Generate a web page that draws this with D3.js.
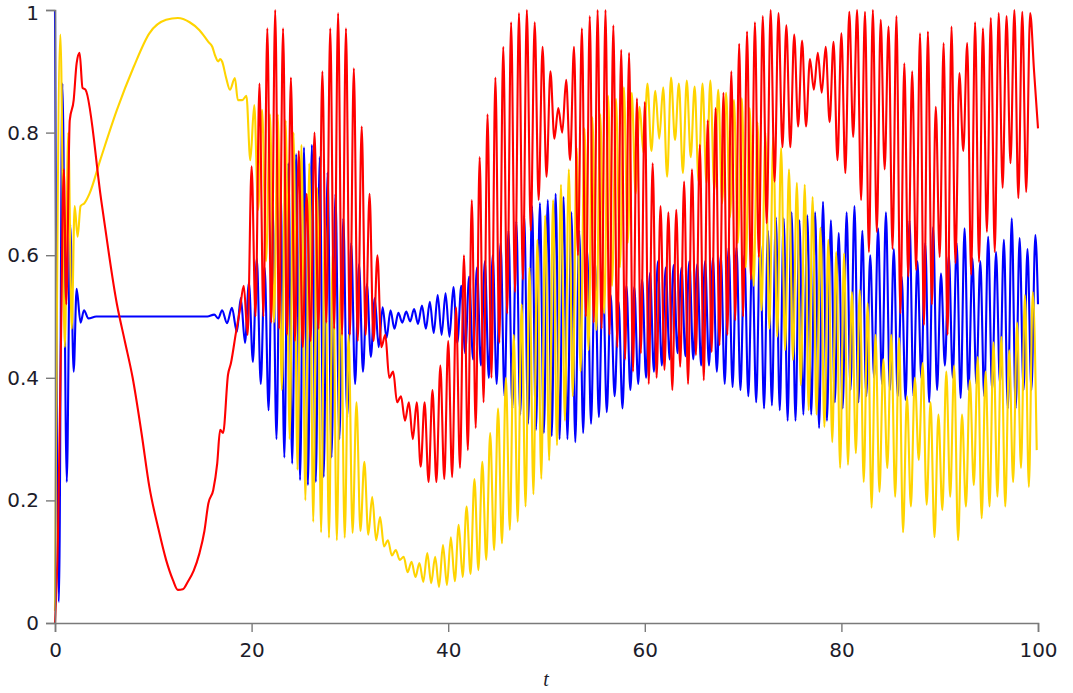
<!DOCTYPE html>
<html>
<head>
<meta charset="utf-8">
<script src="https://cdn.jsdelivr.net/npm/d3@7"></script>
<style>
  body { margin: 0; background: #fff; }
  svg { display: block; }
</style>
</head>
<body>
<svg id="chart" width="1073" height="693"></svg>
<script>
// axis ticks
const xTicks = [0, 20, 40, 60, 80, 100];
const xMinor = [10, 30, 50, 70, 90];
const yTicks = [0, 0.2, 0.4, 0.6, 0.8, 1];
const yMinor = [0.1, 0.3, 0.5, 0.7, 0.9];

const oscStep = 0.4;

// red: transient (t, value) then extremes from t = 19.2 (peak first)
const redHeadT = [0, 0.3, 0.6, 0.9, 1.15, 1.5, 1.9, 2.2, 2.5, 2.8, 3.1, 4.7, 6.3, 7.1, 7.9, 8.8, 9.6, 10.5, 11.3, 12.0, 12.5, 13.0, 13.5, 14.1, 14.7, 15.2, 15.6, 16.1, 16.5, 16.8, 17.1, 17.6, 17.9, 18.4, 18.8];
const redHeadV = [0, 0.14, 0.45, 0.74, 0.52, 0.82, 0.853, 0.913, 0.93, 0.873, 0.87, 0.69, 0.52, 0.46, 0.40, 0.31, 0.222, 0.155, 0.103, 0.07, 0.054, 0.055, 0.067, 0.085, 0.114, 0.15, 0.195, 0.217, 0.26, 0.315, 0.31, 0.405, 0.424, 0.473, 0.51];
const redOscStart = 19.2;
const redOsc = [
  0.55, 0.47, 0.745, 0.50, 0.88, 0.50, 0.97, 0.49, 1.0, 0.48,
  0.97, 0.47, 0.89, 0.46, 0.77, 0.45, 0.70, 0.46, 0.80, 0.48,
  0.90, 0.49, 0.97, 0.48, 0.995, 0.47, 0.97, 0.47, 0.905, 0.46,
  0.81, 0.47, 0.70, 0.46, 0.60, 0.45, 0.47, 0.40, 0.41, 0.36,
  0.37, 0.33, 0.36, 0.30, 0.36, 0.255, 0.36, 0.23, 0.38, 0.23,
  0.42, 0.235, 0.46, 0.238, 0.515, 0.253, 0.60, 0.282, 0.69, 0.318,
  0.76, 0.36, 0.83, 0.40, 0.89, 0.457, 0.94, 0.505, 0.98, 0.54,
  0.995, 0.56, 1.0, 0.64, 0.98, 0.69, 0.94, 0.728, 0.90, 0.79,
  0.84, 0.80, 0.886, 0.755, 0.94, 0.60, 0.97, 0.50, 0.99, 0.49,
  1.0, 0.48, 1.0, 0.47, 0.975, 0.45, 0.935, 0.43, 0.93, 0.41,
  0.856, 0.44, 0.85, 0.39, 0.75, 0.40, 0.68, 0.413, 0.67, 0.38,
  0.674, 0.418, 0.72, 0.39, 0.74, 0.437, 0.78, 0.396, 0.82, 0.442,
  0.84, 0.453, 0.865, 0.47, 0.90, 0.494, 0.945, 0.50, 0.965, 0.56,
  0.98, 0.597, 0.99, 0.652, 1.0, 0.72, 0.995, 0.776, 0.975, 0.776,
  0.96, 0.81, 0.95, 0.81, 0.92, 0.87, 0.93, 0.865, 0.94, 0.817,
  0.948, 0.755, 0.962, 0.734, 0.997, 0.793, 1.0, 0.69, 0.997, 0.605,
  1.0, 0.638, 0.984, 0.74, 0.973, 0.61, 0.99, 0.505, 0.913, 0.565,
  0.90, 0.576, 0.962, 0.486, 0.965, 0.52, 0.842, 0.597, 0.946, 0.47,
  0.973, 0.587, 0.897, 0.77, 0.946, 0.568, 0.98, 0.589, 0.97, 0.638,
  0.987, 0.605, 0.995, 0.71, 0.99, 0.75, 1.0, 0.693, 0.997, 0.703,
  0.995, 0.90, 0.807
];

// yellow: transient then extremes from t = 19.47 (peak first)
const yellowHeadT = [0, 0.55, 1.0, 1.35, 1.7, 2.0, 2.3, 2.6, 3.0, 3.5, 4.6, 6.3, 8.0, 9.6, 11.3, 12.5, 13.7, 14.7, 15.6, 16.0, 16.3, 16.6, 16.8, 17.0, 17.4, 17.8, 18.3, 18.6, 19.05];
const yellowHeadV = [0.02, 0.96, 0.45, 0.80, 0.48, 0.68, 0.63, 0.68, 0.685, 0.70, 0.755, 0.837, 0.907, 0.962, 0.984, 0.987, 0.98, 0.967, 0.948, 0.94, 0.925, 0.916, 0.92, 0.916, 0.89, 0.87, 0.889, 0.853, 0.853];
const yellowOscStart = 19.47;
const yellowOsc = [
  0.86, 0.755, 0.845, 0.674, 0.837, 0.59, 0.83, 0.49, 0.83, 0.38,
  0.82, 0.30, 0.80, 0.25, 0.78, 0.20, 0.75, 0.165, 0.71, 0.148,
  0.66, 0.139, 0.61, 0.135, 0.56, 0.139, 0.47, 0.147, 0.36, 0.15,
  0.263, 0.144, 0.206, 0.135, 0.173, 0.125, 0.135, 0.11, 0.119, 0.103,
  0.108, 0.083, 0.10, 0.075, 0.098, 0.067, 0.114, 0.065, 0.108, 0.059,
  0.127, 0.062, 0.14, 0.068, 0.16, 0.075, 0.19, 0.08, 0.235, 0.086,
  0.263, 0.103, 0.31, 0.119, 0.35, 0.13, 0.40, 0.152, 0.47, 0.165,
  0.52, 0.19, 0.58, 0.21, 0.625, 0.235, 0.665, 0.265, 0.69, 0.29,
  0.715, 0.33, 0.74, 0.37, 0.775, 0.41, 0.807, 0.445, 0.825, 0.478,
  0.83, 0.505, 0.86, 0.55, 0.855, 0.58, 0.874, 0.62, 0.865, 0.70,
  0.842, 0.767, 0.88, 0.77, 0.868, 0.79, 0.874, 0.728, 0.89, 0.788,
  0.88, 0.734, 0.885, 0.76, 0.875, 0.72, 0.88, 0.718, 0.885, 0.706,
  0.87, 0.685, 0.865, 0.662, 0.853, 0.62, 0.856, 0.58, 0.84, 0.55,
  0.817, 0.51, 0.80, 0.48, 0.793, 0.467, 0.775, 0.445, 0.74, 0.429,
  0.718, 0.388, 0.715, 0.347, 0.695, 0.34, 0.645, 0.32, 0.625, 0.295,
  0.605, 0.253, 0.603, 0.258, 0.54, 0.277, 0.543, 0.23, 0.522, 0.188,
  0.47, 0.214, 0.43, 0.253, 0.47, 0.206, 0.465, 0.148, 0.37, 0.19,
  0.40, 0.266, 0.424, 0.193, 0.36, 0.14, 0.34, 0.184, 0.41, 0.206,
  0.42, 0.135, 0.34, 0.19, 0.396, 0.225, 0.434, 0.171, 0.41, 0.19,
  0.458, 0.206, 0.467, 0.19, 0.445, 0.23, 0.49, 0.253, 0.535, 0.222,
  0.54, 0.282
];

// blue: transient then extremes from t = 19.33 (trough first), last point at t = 100
const blueHeadT = [0, 0.4, 0.75, 1.2, 1.55, 1.9, 2.2, 2.6, 2.95, 3.4, 4.2, 15.5, 16.2, 16.6, 17.0, 17.5, 18.0, 18.5, 18.9];
const blueHeadV = [1.0, 0.034, 0.88, 0.23, 0.65, 0.41, 0.545, 0.49, 0.51, 0.497, 0.50, 0.50, 0.503, 0.497, 0.51, 0.489, 0.514, 0.475, 0.53];
const blueOscStart = 19.33;
const blueOsc = [
  0.457, 0.555, 0.426, 0.595, 0.39, 0.58, 0.347, 0.68, 0.30, 0.72,
  0.27, 0.75, 0.26, 0.765, 0.233, 0.776, 0.225, 0.78, 0.23, 0.76,
  0.238, 0.735, 0.27, 0.70, 0.30, 0.66, 0.336, 0.62, 0.39, 0.585,
  0.41, 0.553, 0.434, 0.53, 0.45, 0.515, 0.465, 0.51, 0.48, 0.506,
  0.49, 0.508, 0.492, 0.512, 0.488, 0.518, 0.48, 0.524, 0.473, 0.535,
  0.47, 0.538, 0.467, 0.548, 0.457, 0.55, 0.44, 0.565, 0.43, 0.58,
  0.42, 0.59, 0.40, 0.60, 0.39, 0.62, 0.37, 0.64, 0.35, 0.655,
  0.34, 0.665, 0.325, 0.68, 0.315, 0.685, 0.31, 0.69, 0.305, 0.70,
  0.30, 0.695, 0.30, 0.67, 0.295, 0.64, 0.31, 0.61, 0.325, 0.59,
  0.336, 0.576, 0.344, 0.535, 0.37, 0.524, 0.35, 0.55, 0.38, 0.548,
  0.39, 0.56, 0.40, 0.571, 0.41, 0.59, 0.42, 0.58, 0.43, 0.584,
  0.44, 0.58, 0.435, 0.59, 0.43, 0.585, 0.42, 0.59, 0.42, 0.595,
  0.41, 0.60, 0.39, 0.613, 0.385, 0.613, 0.38, 0.60, 0.37, 0.603,
  0.36, 0.62, 0.35, 0.64, 0.355, 0.662, 0.347, 0.66, 0.33, 0.67,
  0.33, 0.657, 0.34, 0.665, 0.34, 0.67, 0.318, 0.687, 0.33, 0.657,
  0.36, 0.636, 0.35, 0.67, 0.38, 0.68, 0.36, 0.64, 0.37, 0.60,
  0.40, 0.644, 0.39, 0.67, 0.38, 0.61, 0.37, 0.565, 0.364, 0.657,
  0.37, 0.59, 0.40, 0.62, 0.36, 0.646, 0.38, 0.57, 0.42, 0.60,
  0.40, 0.62, 0.367, 0.644, 0.38, 0.595, 0.39, 0.59, 0.37, 0.63,
  0.38, 0.605, 0.39, 0.625, 0.35, 0.66, 0.35, 0.628, 0.38, 0.61,
  0.38, 0.633
];
const blueTailT = [100];
const blueTailV = [0.52];

// join the transient, the sampled extremes and an optional end piece
function buildSeries(headT, headV, start, osc, tailT = [], tailV = []) {
  let pts = headT.map((t, i) => [t, headV[i]]);
  osc.forEach((v, i) => pts.push([start + i * oscStep, v]));
  tailT.forEach((t, i) => pts.push([t, tailV[i]]));
  return pts;
}

const series = [
  { name: "blue", color: "#0000ff", pts: buildSeries(blueHeadT, blueHeadV, blueOscStart, blueOsc, blueTailT, blueTailV) },
  { name: "yellow", color: "#ffd400", pts: buildSeries(yellowHeadT, yellowHeadV, yellowOscStart, yellowOsc) },
  { name: "red", color: "#ff0000", pts: buildSeries(redHeadT, redHeadV, redOscStart, redOsc) }
];

const svg = d3.select("#chart");
const xScale = d3.scaleLinear().domain([0, 100]).range([55, 1038]);
const yScale = d3.scaleLinear().domain([0, 1]).range([623, 10]);

// curves
const line = d3.line()
  .x(d => xScale(d[0]))
  .y(d => yScale(d[1]))
  .curve(d3.curveMonotoneX);

svg.append("g")
  .selectAll("path")
  .data(series)
  .enter()
  .append("path")
  .attr("class", d => "curve " + d.name)
  .attr("d", d => line(d.pts))
  .style("fill", "none")
  .style("stroke", d => d.color)
  .style("stroke-width", 2.1)
  .style("stroke-linejoin", "round");

// axes
const axisColor = "#7a7a7a";
const xAxis = svg.append("g").attr("transform", "translate(0,623)");
xAxis.call(d3.axisBottom(xScale).tickValues(xMinor).tickSize(6).tickFormat(""));
xAxis.call(d3.axisBottom(xScale).tickValues(xTicks).tickSize(9).tickPadding(11).tickFormat(d3.format("d")));

const yAxis = svg.append("g").attr("transform", "translate(55,0)");
yAxis.call(d3.axisLeft(yScale).tickValues(yMinor).tickSize(5).tickFormat(""));
yAxis.call(d3.axisLeft(yScale).tickValues(yTicks).tickSize(9).tickPadding(7).tickFormat(d => d === 0 || d === 1 ? String(d) : d.toFixed(1)));

svg.selectAll(".domain").style("stroke", axisColor).style("stroke-width", 1.6);
svg.selectAll(".tick line").style("stroke", axisColor).style("stroke-width", 1.4);
svg.selectAll(".tick text")
  .style("font-family", "'DejaVu Sans', sans-serif")
  .style("font-size", "20px")
  .style("fill", "#1c1c2a");

// keep the top label inside the picture
yAxis.selectAll(".tick text").filter(d => d === 1).attr("dy", "0.45em");

// axis title
svg.append("text")
  .attr("x", 546)
  .attr("y", 686)
  .attr("text-anchor", "middle")
  .style("font-family", "'Liberation Serif', serif")
  .style("font-style", "italic")
  .style("font-size", "20px")
  .style("fill", "#1c1c2a")
  .text("t");
</script>
</body>
</html>
